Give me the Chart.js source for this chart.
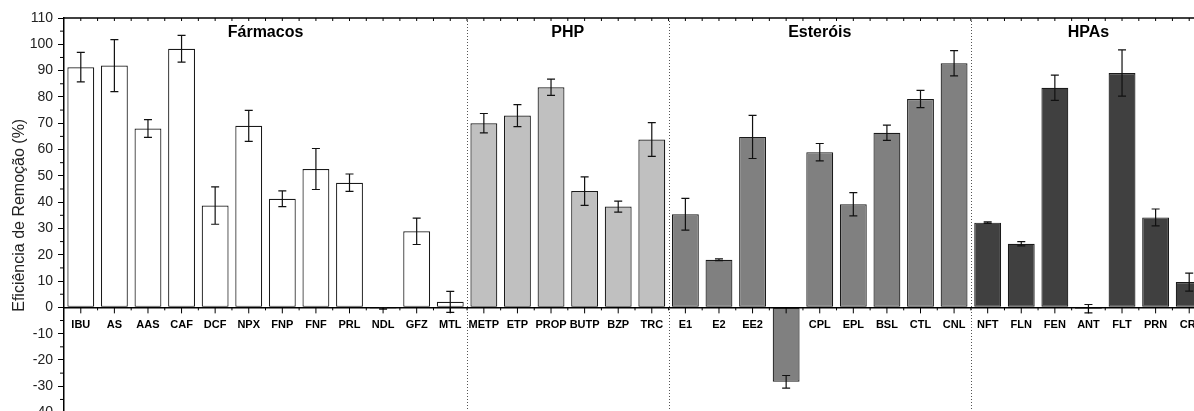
<!DOCTYPE html>
<html>
<head>
<meta charset="utf-8">
<script src="https://cdn.jsdelivr.net/npm/chart.js@4.4.1/dist/chart.umd.min.js"></script>
<style>
  html, body { margin: 0; padding: 0; background: #fff; overflow: hidden; }
  canvas { display: block; }
</style>
</head>
<body>
<canvas id="chart" width="1216" height="426"></canvas>
<script>
const categories = ['IBU', 'AS', 'AAS', 'CAF', 'DCF', 'NPX', 'FNP', 'FNF', 'PRL', 'NDL', 'GFZ', 'MTL',
    'METP', 'ETP', 'PROP', 'BUTP', 'BZP', 'TRC',
    'E1', 'E2', 'EE2', 'ETL', 'CPL', 'EPL', 'BSL', 'CTL', 'CNL',
    'NFT', 'FLN', 'FEN', 'ANT', 'FLT', 'PRN', 'CRI'];
const removal = [91.3, 91.9, 68.0, 98.3, 38.7, 69.0, 41.3, 52.6, 47.4, -0.4, 28.9, 2.1,
    70.0, 72.9, 83.7, 44.2, 38.3, 63.8,
    35.4, 18.1, 64.8, -28.3, 59.0, 39.2, 66.4, 79.2, 92.8,
    32.2, 24.2, 83.5, -0.5, 89.1, 34.2, 9.6];
const errors = [5.6, 9.9, 3.4, 5.1, 7.1, 5.9, 3.0, 7.8, 3.3, 0.3, 5.0, 4.0,
    3.7, 4.2, 3.1, 5.4, 2.1, 6.4,
    6.0, 0.3, 8.2, 2.4, 3.3, 4.4, 2.9, 3.3, 4.8,
    0.3, 0.8, 4.8, 1.6, 8.8, 3.2, 3.4];
const groupNames = ['Fármacos', 'PHP', 'Esteróis', 'HPAs'];
const groupSizes = [12, 6, 9, 7];
const yMin = -40, yMax = 110, yStep = 10;

const groupFills = ['#ffffff', '#c0c0c0', '#808080', '#404040'];
const FONT = "'Liberation Sans', Arial, sans-serif";

// which group each bar belongs to
const groupOf = [];
groupSizes.forEach((n, g) => { for (let i = 0; i < n; i++) groupOf.push(g); });

const decorations = {
    id: 'decorations',
    afterDatasetsDraw(chart) {
        const ctx = chart.ctx;
        const y = chart.scales.y;
        const meta = chart.getDatasetMeta(0);
        ctx.save();
        ctx.strokeStyle = '#111';
        ctx.lineWidth = 1.2;
        meta.data.forEach((bar, i) => {
            const e = errors[i];
            const top = y.getPixelForValue(removal[i] + e);
            const bot = y.getPixelForValue(removal[i] - e);
            ctx.beginPath();
            ctx.moveTo(bar.x, top); ctx.lineTo(bar.x, bot);
            ctx.moveTo(bar.x - 4, top); ctx.lineTo(bar.x + 4, top);
            ctx.moveTo(bar.x - 4, bot); ctx.lineTo(bar.x + 4, bot);
            ctx.stroke();
        });
        ctx.restore();
    },
    afterDraw(chart) {
        const ctx = chart.ctx;
        const {left, right, top, bottom} = chart.chartArea;
        const x = chart.scales.x;
        const y = chart.scales.y;
        const y0 = y.getPixelForValue(0);
        const half = (x.getPixelForValue(1) - x.getPixelForValue(0)) / 2;
        ctx.save();

        // top frame line
        ctx.strokeStyle = '#000';
        ctx.lineWidth = 1.5;
        ctx.beginPath();
        ctx.moveTo(left, top); ctx.lineTo(right, top);
        ctx.stroke();

        // ticks on x axis and top frame
        ctx.lineWidth = 1;
        ctx.beginPath();
        categories.forEach((c, i) => {
            const cx = x.getPixelForValue(i);
            ctx.moveTo(cx, y0); ctx.lineTo(cx, y0 + 6);
            ctx.moveTo(cx + half, y0); ctx.lineTo(cx + half, y0 + 3);
            ctx.moveTo(cx, top); ctx.lineTo(cx, top + 3);
            ctx.moveTo(cx + half, top); ctx.lineTo(cx + half, top + 3);
        });
        // minor y ticks
        for (let v = yMin + yStep / 2; v < yMax; v += yStep) {
            const py = y.getPixelForValue(v);
            ctx.moveTo(left - 4, py); ctx.lineTo(left, py);
        }
        ctx.stroke();

        // dotted group separators and group titles
        ctx.strokeStyle = '#555';
        ctx.setLineDash([1, 2]);
        ctx.font = 'bold 16px ' + FONT;
        ctx.fillStyle = '#000';
        ctx.textAlign = 'center';
        ctx.textBaseline = 'middle';
        let start = 0;
        groupSizes.forEach((n, g) => {
            const first = x.getPixelForValue(start);
            const last = x.getPixelForValue(start + n - 1);
            ctx.fillText(groupNames[g], (first + last) / 2, top + 15);
            if (g < groupSizes.length - 1) {
                const sx = Math.round(last + half) + 0.5;
                ctx.beginPath();
                ctx.moveTo(sx, top); ctx.lineTo(sx, bottom);
                ctx.stroke();
            }
            start += n;
        });
        ctx.restore();
    }
};

new Chart(document.getElementById('chart').getContext('2d'), {
    type: 'bar',
    data: {
        labels: categories,
        datasets: [{
            data: removal,
            backgroundColor: groupOf.map(g => groupFills[g]),
            borderColor: '#1a1a1a',
            borderWidth: 1.2,
            borderSkipped: false,
            barPercentage: 0.8,
            categoryPercentage: 1.0,
        }]
    },
    options: {
        responsive: false,
        animation: false,
        layout: {
            padding: { left: 0, top: 18, right: 10, bottom: 8 }
        },
        plugins: {
            legend: { display: false },
            tooltip: { enabled: false }
        },
        scales: {
            x: {
                position: { y: 0 },
                offset: true,
                grid: { display: false },
                border: { display: true, color: '#000', width: 1.5 },
                ticks: {
                    color: '#000',
                    font: { family: FONT, size: 11, weight: 'bold' },
                    padding: 3,
                    maxRotation: 0,
                    autoSkip: false,
                }
            },
            y: {
                min: yMin,
                max: yMax,
                afterFit: (scale) => { scale.width = 64; },
                grid: { drawOnChartArea: false, tickLength: 6, color: '#000', lineWidth: 1 },
                border: { display: true, color: '#000', width: 1.5 },
                ticks: {
                    stepSize: yStep,
                    color: '#222',
                    padding: 5,
                    font: { family: FONT, size: 14 },
                },
                title: {
                    display: true,
                    text: 'Eficiência de Remoção (%)',
                    color: '#222',
                    font: { family: FONT, size: 16 },
                    padding: { top: 10, bottom: 0 },
                }
            }
        }
    },
    plugins: [decorations]
});
</script>
</body>
</html>
